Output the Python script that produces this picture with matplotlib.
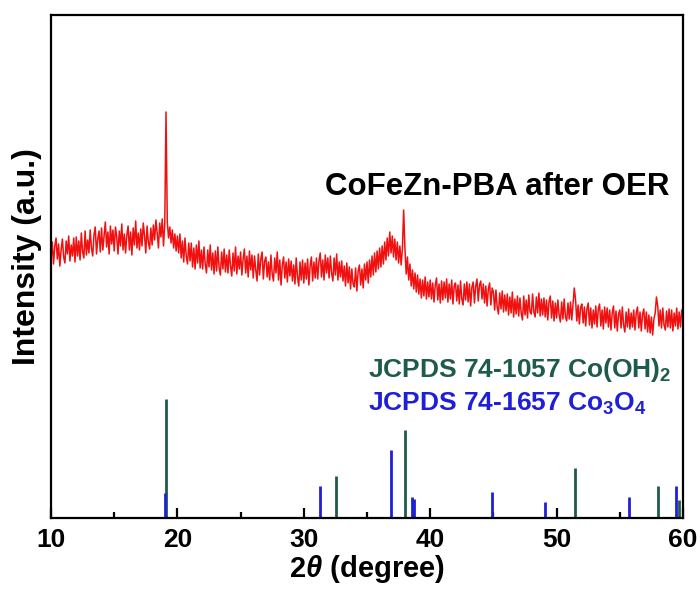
import numpy as np
import matplotlib
matplotlib.use("Agg")
import matplotlib.pyplot as plt
from matplotlib.ticker import MultipleLocator

plt.rcParams['font.family'] = ['Liberation Sans', 'DejaVu Sans']
plt.rcParams['font.weight'] = 'bold'
plt.rcParams['axes.labelweight'] = 'bold'
plt.rcParams['mathtext.fontset'] = 'custom'
plt.rcParams['mathtext.rm'] = 'Liberation Sans:bold'
plt.rcParams['mathtext.it'] = 'Liberation Sans:italic:bold'
plt.rcParams['mathtext.bf'] = 'Liberation Sans:bold'

# XRD trace, 2theta from 10 to 60 in 0.1 steps (one row per degree)
two_theta = np.round(np.arange(10.0, 60.05, 0.1), 1)
intensity = [
    258, 276, 254, 272, 280, 259, 274, 252, 268, 279,   # 10
    261, 255, 277, 264, 282, 257, 273, 262, 280, 256,   # 11
    281, 262, 277, 258, 285, 266, 260, 287, 263, 278,   # 12
    265, 288, 270, 262, 283, 291, 264, 279, 287, 266,   # 13
    290, 268, 282, 296, 271, 286, 264, 292, 274, 288,   # 14
    267, 291, 281, 264, 287, 272, 294, 268, 284, 265,   # 15
    283, 292, 268, 286, 263, 290, 273, 297, 270, 285,   # 16
    268, 289, 272, 295, 282, 265, 292, 276, 269, 290,   # 17
    273, 293, 278, 298, 285, 270, 295, 281, 299, 272,   # 18
    294, 406, 296, 280, 291, 275, 288, 270, 284, 267,   # 19
    282, 265, 284, 260, 277, 256, 280, 262, 254, 275,   # 20
    257, 275, 251, 270, 249, 273, 255, 277, 250, 268,   # 21
    249, 271, 254, 245, 268, 251, 273, 248, 265, 244,   # 22
    267, 247, 271, 250, 243, 266, 249, 269, 246, 263,   # 23
    245, 268, 252, 242, 265, 247, 271, 244, 262, 249,   # 24
    266, 243, 259, 269, 245, 262, 241, 267, 248, 263,   # 25
    240, 262, 248, 237, 264, 243, 259, 266, 239, 257,   # 26
    261, 241, 256, 238, 263, 244, 237, 260, 245, 266,   # 27
    238, 258, 233, 253, 261, 240, 256, 236, 259, 242,   # 28
    257, 237, 253, 234, 260, 241, 232, 256, 238, 258,   # 29
    235, 255, 239, 259, 233, 252, 261, 237, 256, 240,   # 30
    260, 239, 257, 265, 241, 258, 238, 263, 245, 260,   # 31
    240, 262, 245, 237, 260, 243, 264, 238, 256, 241,   # 32
    257, 237, 252, 232, 255, 235, 251, 229, 249, 234,   # 33
    231, 250, 227, 247, 253, 233, 249, 230, 254, 238,   # 34
    256, 235, 258, 241, 262, 243, 265, 246, 267, 249,   # 35
    270, 251, 272, 254, 276, 258, 280, 262, 286, 265,   # 36
    282, 261, 279, 258, 276, 255, 272, 253, 269, 308,   # 37
    270, 244, 261, 238, 254, 232, 248, 229, 245, 226,   # 38
    243, 224, 239, 220, 238, 222, 241, 219, 236, 221,   # 39
    238, 219, 235, 216, 233, 240, 218, 234, 215, 237,   # 40
    218, 236, 220, 239, 216, 234, 219, 238, 214, 232,   # 41
    235, 217, 233, 214, 237, 219, 213, 234, 218, 236,   # 42
    216, 234, 212, 231, 236, 215, 232, 239, 217, 233,   # 43
    237, 219, 234, 215, 232, 212, 229, 235, 213, 230,   # 44
    226, 208, 228, 211, 204, 225, 209, 227, 206, 223,   # 45
    207, 224, 203, 221, 205, 226, 201, 219, 204, 222,   # 46
    202, 220, 205, 198, 222, 203, 218, 200, 223, 206,   # 47
    204, 224, 206, 201, 221, 205, 225, 202, 219, 203,   # 48
    220, 201, 218, 198, 216, 222, 200, 217, 197, 215,   # 49
    200, 218, 203, 196, 216, 199, 219, 201, 197, 215,   # 50
    199, 216, 198, 214, 230, 218, 197, 213, 194, 211,   # 51
    214, 195, 211, 192, 209, 215, 193, 210, 190, 208,   # 52
    194, 212, 191, 209, 214, 192, 208, 189, 211, 195,   # 53
    210, 191, 208, 188, 205, 212, 190, 207, 187, 204,   # 54
    208, 190, 211, 193, 186, 206, 191, 209, 189, 205,   # 55
    191, 208, 188, 205, 211, 190, 206, 187, 204, 209,   # 56
    189, 206, 186, 203, 185, 201, 183, 199, 205, 221,   # 57
    212, 192, 208, 190, 210, 193, 188, 207, 191, 209,   # 58
    190, 208, 187, 205, 192, 210, 189, 206, 191, 208,   # 59
    200,                                                # 60
]

# reference patterns (stick positions and heights)
cooh2_pos = [19.08, 32.55, 38.02, 51.45, 58.0, 59.7]
cooh2_h = [119, 42, 88, 50, 32, 18]
co3o4_pos = [19.0, 31.3, 36.87, 38.55, 38.75, 44.85, 49.1, 55.7, 59.45]
co3o4_h = [25, 32, 68, 21, 19, 26, 16, 21, 32]

green = "#1f5b4c"
blue = "#1f1fd8"

fig = plt.figure(figsize=(7.0, 5.94), dpi=100)
ax = fig.add_axes([51 / 700, 76 / 594, 632 / 700, 503 / 594])

ax.plot(two_theta, intensity, color="#f01010", linewidth=1.1)
ax.vlines(cooh2_pos, 0, cooh2_h, color=green, linewidth=2.0)
ax.vlines(co3o4_pos, 0, co3o4_h, color=blue, linewidth=2.0)

ax.text(31.7, 323, "CoFeZn-PBA after OER", fontsize=22.5, color="black")
ax.text(35.1, 141, r"JCPDS 74-1057 Co(OH)$_\mathbf{2}$", fontsize=19, color=green)
ax.text(35.1, 107, r"JCPDS 74-1657 Co$_\mathbf{3}$O$_\mathbf{4}$", fontsize=19, color=blue)

ax.set_xlim(10, 60)
ax.set_ylim(0, 503)
ax.set_yticks([])
ax.xaxis.set_major_locator(MultipleLocator(10))
ax.xaxis.set_minor_locator(MultipleLocator(5))
ax.tick_params(axis="x", which="major", direction="in", length=7, width=1.6,
               labelsize=19, pad=7)
ax.tick_params(axis="x", which="minor", direction="in", length=4, width=1.6)
for s in ax.spines.values():
    s.set_linewidth(1.6)

ax.set_xlabel(r"2$\mathit{\theta}$ (degree)", fontsize=21, labelpad=1)
ax.set_ylabel("Intensity (a.u.)", fontsize=23)
ax.yaxis.set_label_coords(-0.014, 0.52)

fig.savefig("out.png", dpi=100)
